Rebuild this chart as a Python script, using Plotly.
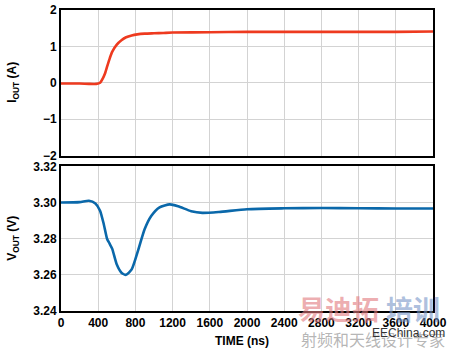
import plotly.graph_objects as go

# ---- data ----
t_i = [0, 200, 300, 380, 420, 450, 475, 500, 525, 550, 600, 650, 700, 760, 820, 900,
       1000, 1100, 1200, 1600, 2000, 2400, 2800, 3200, 3600, 4000]
i_out = [-0.02, -0.02, -0.03, -0.03, 0.0, 0.12, 0.27, 0.48, 0.68, 0.85, 1.05, 1.17, 1.25,
         1.30, 1.33, 1.35, 1.36, 1.37, 1.38, 1.39, 1.40, 1.40, 1.40, 1.40, 1.40, 1.41]

t_v = [0, 200, 300, 370, 420, 460, 495, 520, 550, 600, 650, 700, 760, 830, 900, 970,
       1060, 1170, 1260, 1400, 1520, 1700, 2000, 2400, 2800, 3200, 3600, 4000]
v_out = [3.300, 3.3002, 3.301, 3.2995, 3.2955, 3.288, 3.280, 3.2775, 3.2745, 3.2657,
         3.2612, 3.2600, 3.2630, 3.2737, 3.2853, 3.2925, 3.2973, 3.2990, 3.2979, 3.2952,
         3.2943, 3.2948, 3.2963, 3.2968, 3.2970, 3.2968, 3.2967, 3.2967]

x_ticks = [0, 400, 800, 1200, 1600, 2000, 2400, 2800, 3200, 3600, 4000]
i_ticks = [-2, -1, 0, 1, 2]
v_ticks = [3.24, 3.26, 3.28, 3.30, 3.32]

FONT = "Liberation Sans"

fig = go.Figure()
fig.add_trace(go.Scatter(x=t_i, y=i_out, mode="lines", xaxis="x2", yaxis="y2",
                         line=dict(color="#ee3a1f", width=2.6, shape="spline", smoothing=0.6),
                         showlegend=False))
fig.add_trace(go.Scatter(x=t_v, y=v_out, mode="lines", xaxis="x", yaxis="y",
                         line=dict(color="#0a68aa", width=2.6, shape="spline", smoothing=0.6),
                         showlegend=False))

axcommon = dict(showline=True, linecolor="black", linewidth=2, mirror=True,
                showgrid=True, gridcolor="#d3d3d3", gridwidth=1, zeroline=False,
                ticks="", tickfont=dict(family=FONT, size=12, color="black", weight="bold"))

fig.update_layout(
    width=450, height=351,
    margin=dict(l=61, r=14, t=3, b=40),
    paper_bgcolor="white", plot_bgcolor="white",
    font=dict(family=FONT, color="black"),
    xaxis=dict(domain=[0, 1], range=[0, 4000], tickvals=x_ticks, anchor="y", **axcommon),
    yaxis=dict(domain=[0, 0.4805], range=[3.24, 3.32], tickvals=v_ticks,
               tickformat=".2f", anchor="x", **axcommon),
    xaxis2=dict(domain=[0, 1], range=[0, 4000], tickvals=x_ticks, anchor="y2",
                showticklabels=False, matches="x", **axcommon),
    yaxis2=dict(domain=[0.5162, 1], range=[-2, 2], tickvals=i_ticks, anchor="x2", **axcommon),
)

ann_font = dict(family=FONT, size=12, color="black", weight="bold")
fig.add_annotation(text="I<sub>OUT</sub> (A)", xref="paper", yref="paper",
                   x=-0.129, y=0.758, textangle=-90, showarrow=False,
                   xanchor="center", yanchor="middle", font=ann_font)
fig.add_annotation(text="V<sub>OUT</sub> (V)", xref="paper", yref="paper",
                   x=-0.129, y=0.24, textangle=-90, showarrow=False,
                   xanchor="center", yanchor="middle", font=ann_font)
fig.add_annotation(text="TIME (ns)", xref="paper", yref="paper",
                   x=0.487, y=-0.1006, showarrow=False,
                   xanchor="center", yanchor="middle", font=ann_font)

# watermark
CJK = "Noto Sans CJK SC"
fig.add_annotation(text="易迪拓", xref="paper", yref="paper", x=(297 - 60.5) / 375,
                   y=(311 - 308) / 308, xanchor="left", yanchor="middle", showarrow=False,
                   font=dict(family=CJK, size=27, color="rgba(225,120,125,0.6)", weight="bold"))
fig.add_annotation(text="培训", xref="paper", yref="paper", x=(386 - 60.5) / 375,
                   y=(311 - 308) / 308, xanchor="left", yanchor="middle", showarrow=False,
                   font=dict(family=CJK, size=27, color="rgba(120,150,200,0.6)", weight="bold"))
fig.add_annotation(text="射频和天线设计专家", xref="paper", yref="paper", x=(300 - 60.5) / 375,
                   y=(311 - 340) / 308, xanchor="left", yanchor="middle", showarrow=False,
                   font=dict(family=CJK, size=16, color="rgba(150,150,150,0.7)"))
fig.add_annotation(text="EEChina.com", xref="paper", yref="paper", x=(372 - 60.5) / 375,
                   y=(311 - 334) / 308, xanchor="left", yanchor="middle", showarrow=False,
                   font=dict(family=FONT, size=12, color="#333333"))

fig.write_html("out.html")
